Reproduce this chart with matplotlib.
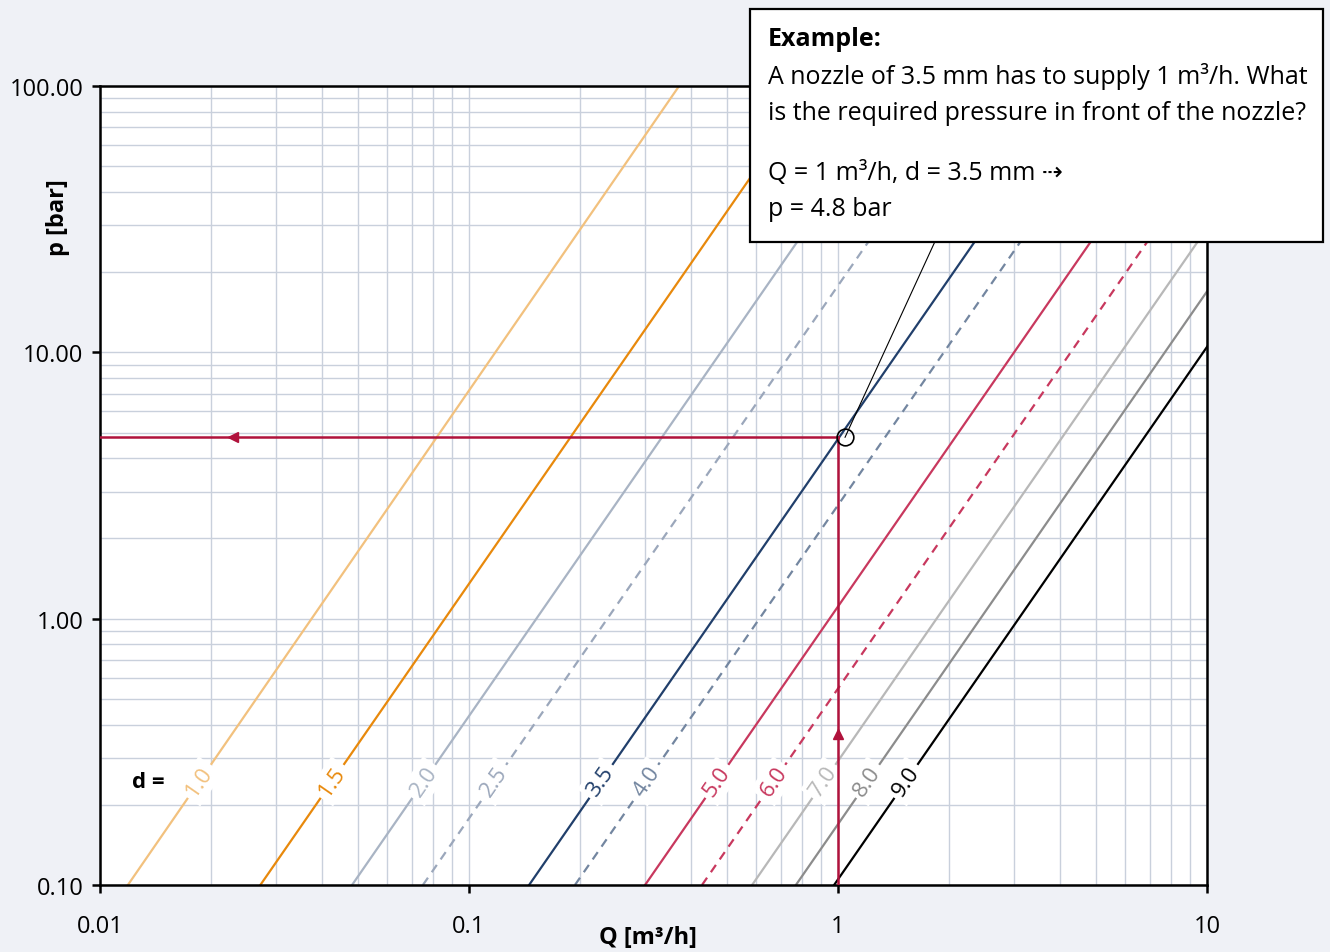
import matplotlib.pyplot as plt
from matplotlib.patches import Rectangle
import numpy as np

plt.rcParams['font.family'] = ['Open Sans', 'DejaVu Sans']

# Nozzle diameters (mm) and their lines: Q at p = 0.1 bar and Q at p = 100 bar
diametres = ['1.0', '1.5', '2.0', '2.5', '3.5', '4.0', '5.0', '6.0', '7.0', '8.0', '9.0']
q_bas = [0.0119, 0.0272, 0.0482, 0.075, 0.1455, 0.1937, 0.300, 0.428, 0.585, 0.769, 0.976]
q_haut = [0.371, 0.86, 1.52, 2.37, 4.6, 6.12, 9.49, 13.5, 18.5, 24.3, 30.9]
p_bas, p_haut = 0.1, 100

couleurs = ['#f2c17e', '#e8890c', '#a9b4c4', '#9ba7bb', '#213f6b', '#7386a0',
            '#c8385e', '#c8385e', '#b8b8b8', '#8c8c8c', '#000000']
styles = ['-', '-', '-', '--', '-', '--', '-', '--', '-', '-', '-']

# Example read-off
q_ex, p_ex = 1.0, 4.8
rouge = '#b0123c'

fig = plt.figure(figsize=(13.3, 9.53), dpi=100)
fig.patch.set_facecolor('#eff1f6')
ax = fig.add_axes([100/1330, 67/953, 1107/1330, 799/953])
ax.set_facecolor('white')
ax.set_xscale('log')
ax.set_yscale('log')
ax.set_xlim(0.01, 10)
ax.set_ylim(0.1, 100)

ax.grid(True, which='both', color='#c9d0dc', lw=1.0, zorder=0)

p_label = 0.245
for d, q0, q1, c, ls in zip(diametres, q_bas, q_haut, couleurs, styles):
    ax.plot([q0, q1], [p_bas, p_haut], color=c, ls=ls, lw=1.6,
            dashes=(4, 3) if ls == '--' else (None, None), zorder=2)
    # label position on the line (log interpolation)
    t = (np.log10(p_label) - np.log10(p_bas)) / (np.log10(p_haut) - np.log10(p_bas))
    ql = 10 ** (np.log10(q0) + t * (np.log10(q1) - np.log10(q0)))
    ax.text(ql, p_label, d, color=c, fontsize=16, rotation=55.3,
            ha='center', va='center', rotation_mode='anchor', zorder=3,
            bbox=dict(boxstyle='square,pad=0.2', fc='white', ec='none'))

ax.text(0.01349, p_label, 'd =', fontsize=16, fontweight='bold', ha='center', va='center')

# Example lines
ax.plot([0.01, q_ex], [p_ex, p_ex], color=rouge, lw=1.8, zorder=4)
ax.plot([q_ex, q_ex], [0.1, p_ex], color=rouge, lw=1.8, zorder=4)
ax.plot([0.0229], [p_ex], marker='<', color=rouge, ms=7, zorder=5)
ax.plot([q_ex], [0.369], marker='^', color=rouge, ms=7, zorder=5)
ax.plot([1.83, 1.045], [26, p_ex], color='black', lw=0.8, zorder=5)
ax.plot([1.045], [p_ex], marker='o', ms=12, mfc='none', mec='black', mew=1.2, zorder=6)

ax.set_xticks([0.01, 0.1, 1, 10])
ax.set_xticklabels(['0.01', '0.1', '1', '10'])
ax.set_yticks([0.1, 1, 10, 100])
ax.set_yticklabels(['0.10', '1.00', '10.00', '100.00'])
ax.tick_params(which='major', length=6, width=1.8, labelsize=17, color='black')
ax.tick_params(axis='x', pad=15)
ax.tick_params(axis='y', pad=6)
ax.tick_params(which='minor', length=0)
for s in ax.spines.values():
    s.set_linewidth(1.8)
    s.set_color('black')

fig.text(648/1330, 1 - 938/953, 'Q [m³/h]', fontsize=17, fontweight='bold',
         ha='center', va='center')
fig.text(58/1330, 1 - 218/953, 'p [bar]', fontsize=17, fontweight='bold',
         ha='center', va='center', rotation=90)

# Example box
fig.patches.append(Rectangle((750/1330, 1 - 243/953), 573/1330, 233/953,
                             transform=fig.transFigure, fc='white', ec='black',
                             lw=1.6, zorder=10))
x_txt = 768/1330
lignes = [('Example:', 40, 'bold'),
          ('A nozzle of 3.5 mm has to supply 1 m³/h. What', 77, 'normal'),
          ('is the required pressure in front of the nozzle?', 114, 'normal'),
          ('Q = 1 m³/h, d = 3.5 mm ⇢', 173, 'normal'),
          ('p = 4.8 bar', 210, 'normal')]
for txt, y, w in lignes:
    fig.text(x_txt, 1 - y/953, txt, fontsize=18, fontweight=w, ha='left', va='center', zorder=11)

plt.savefig('out.png', dpi=100, facecolor=fig.get_facecolor())
